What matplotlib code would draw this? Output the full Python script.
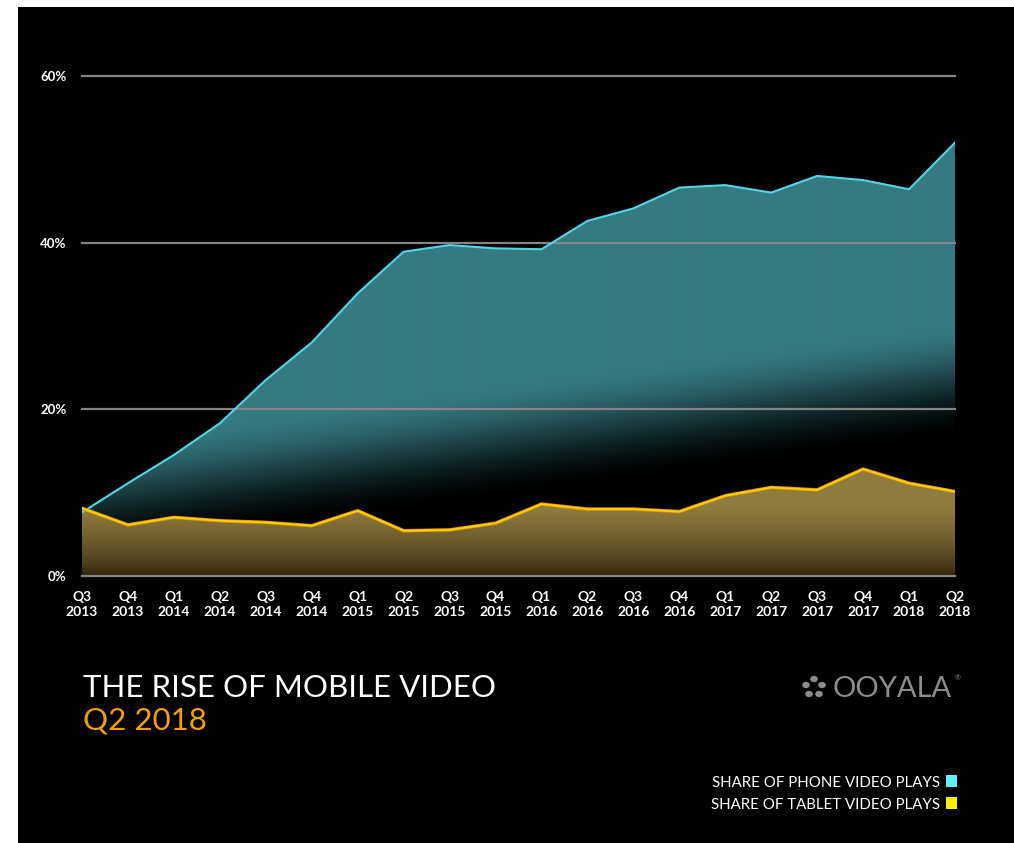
import numpy as np
import matplotlib

matplotlib.use("Agg")
import matplotlib.pyplot as plt
import matplotlib.patheffects as pe
from matplotlib.patches import Rectangle, Circle

# Quarter labels
quarters = ["Q3", "Q4", "Q1", "Q2", "Q3", "Q4", "Q1", "Q2", "Q3", "Q4",
            "Q1", "Q2", "Q3", "Q4", "Q1", "Q2", "Q3", "Q4", "Q1", "Q2"]
years = ["2013", "2013", "2014", "2014", "2014", "2014", "2015", "2015", "2015", "2015",
         "2016", "2016", "2016", "2016", "2017", "2017", "2017", "2017", "2018", "2018"]

# Share of video plays (%)
phone = [7.6, 11.1, 14.5, 18.3, 23.5, 28.0, 33.9, 38.9, 39.7, 39.3,
         39.2, 42.6, 44.1, 46.6, 46.9, 46.0, 48.0, 47.5, 46.4, 52.0]
tablet = [8.1, 6.1, 7.0, 6.6, 6.4, 6.0, 7.8, 5.4, 5.5, 6.3,
          8.6, 8.0, 8.0, 7.7, 9.6, 10.6, 10.3, 12.8, 11.1, 10.1]

y_ticks = [0, 20, 40, 60]
y_labels = ["0%", "20%", "40%", "60%"]

W, H = 1014, 843
FONT = "Lato"

fig = plt.figure(figsize=(W / 100, H / 100), dpi=100)
fig.patch.set_facecolor("white")
# black panel (behind the axes)
fig.patches.append(Rectangle((18 / W, 0), (W - 18) / W, (H - 7) / H,
                             transform=fig.transFigure, facecolor="black",
                             edgecolor="none", zorder=-5))

x0, x1 = 82, 955
ytop, ybot = 76, 575.7
ax = fig.add_axes([x0 / W, 1 - ybot / H, (x1 - x0) / W, (ybot - ytop) / H])
ax.set_facecolor("none")
x = np.arange(len(phone))
ax.set_xlim(0, len(phone) - 1)
ax.set_ylim(0, 60)
for s in ax.spines.values():
    s.set_visible(False)

# gradient fills
gx, gy = np.meshgrid(np.linspace(0, 19, 400), np.linspace(0, 60, 600))
base = 2.5 + 14 * gx / 19
t = np.clip((gy - base) / 14, 0, 1)
t = t * t * (3 - 2 * t)
t = t[..., None]
teal = np.array([53, 122, 128]) / 255
img_phone = t * teal
poly = ax.fill_between(x, 0, phone, facecolor="none", edgecolor="none")
im = ax.imshow(img_phone, origin="lower", extent=[0, 19, 0, 60], aspect="auto",
               zorder=1, interpolation="bilinear")
im.set_clip_path(poly.get_paths()[0], transform=ax.transData)

olive = np.array([142, 124, 62]) / 255
dark = np.array([45, 34, 10]) / 255
tt = np.clip(gy / 8, 0, 1) ** 0.7
tt = tt[..., None]
img_tab = dark * (1 - tt) + olive * tt
poly2 = ax.fill_between(x, 0, tablet, facecolor="none", edgecolor="none")
im2 = ax.imshow(img_tab, origin="lower", extent=[0, 19, 0, 60], aspect="auto",
                zorder=2, interpolation="bilinear")
im2.set_clip_path(poly2.get_paths()[0], transform=ax.transData)

# gridlines
for yv in y_ticks:
    ax.axhline(yv, color="#858585", lw=1.6, zorder=3, clip_on=False)

ax.plot(x, phone, color="#4fd6e8", lw=1.5, zorder=4, solid_joinstyle="round")
ax.plot(x, tablet, color="#ffd400", lw=1.3, zorder=5, solid_joinstyle="round",
        path_effects=[pe.Stroke(linewidth=2.5, foreground="#e8900a"), pe.Normal()])

ax.set_yticks(y_ticks)
ax.set_yticklabels(y_labels)
ax.set_xticks(x)
ax.set_xticklabels([f"{q}\n{yr}" for q, yr in zip(quarters, years)])
ax.tick_params(axis="both", length=0, colors="white")
ax.tick_params(axis="y", pad=11, labelsize=9.5)
ax.tick_params(axis="x", pad=11, labelsize=10)
for lab in ax.get_xticklabels() + ax.get_yticklabels():
    lab.set_fontfamily(FONT)
    lab.set_fontweight("bold")
    lab.set_linespacing(1.35)

# title
fig.text(83 / W, 1 - 697 / H, "THE RISE OF MOBILE VIDEO", color="white",
         fontsize=22.5, family=FONT, va="baseline", ha="left")
fig.text(83 / W, 1 - 730 / H, "Q2 2018", color="#f5a000",
         fontsize=22.5, family=FONT, va="baseline", ha="left")

# logo
fig.text(952 / W, 1 - 697 / H, "OOYALA", color="#8c8c8c", fontsize=21,
         family=FONT, va="baseline", ha="right")
fig.text(955 / W, 1 - 680 / H, "®", color="#8c8c8c", fontsize=5,
         family=FONT, va="baseline", ha="left")
for dx, dy in [(-8, -3), (0, -9), (8, -3), (-5, 6), (5, 6)]:
    fig.patches.append(Circle(((814 + dx) / W, 1 - (688 + dy) / H), 3.8 / W,
                              transform=fig.transFigure, facecolor="#8c8c8c",
                              edgecolor="none"))

# legend
leg = [("SHARE OF PHONE VIDEO PLAYS", "#5ff0ff", 787),
       ("SHARE OF TABLET VIDEO PLAYS", "#ffee00", 809)]
for label, col, yb in leg:
    fig.text(940 / W, 1 - yb / H, label, color="white", fontsize=10.8,
             family=FONT, va="baseline", ha="right")
    fig.patches.append(Rectangle((946 / W, 1 - yb / H), 11 / W, 12 / H,
                                 transform=fig.transFigure, facecolor=col,
                                 edgecolor="none"))

fig.savefig("out.png", dpi=100, facecolor=fig.get_facecolor())
